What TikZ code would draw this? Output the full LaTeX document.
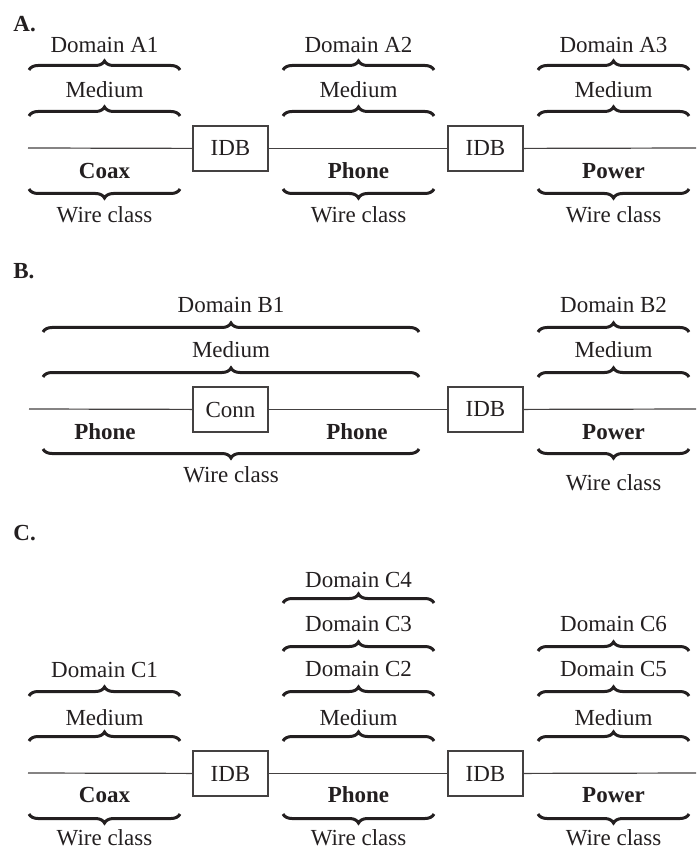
\documentclass[tikz,border=0pt]{standalone}
\usepackage{fontspec}
\setmainfont{Liberation Serif}
\usetikzlibrary{decorations.pathreplacing}
\definecolor{ink}{HTML}{231F20}
\tikzset{
  brup/.style={draw=ink, line width=1.5pt, decorate, decoration={brace, amplitude=4.5pt}},
  brdown/.style={draw=ink, line width=1.5pt, decorate, decoration={brace, mirror, amplitude=4.5pt}},
  wire/.style={draw=ink!85, line width=0.6pt},
  idb/.style={draw=ink!85, line width=0.6pt, minimum width=37.5pt, minimum height=22.5pt},
  part/.style={font=\fontsize{11.5}{14}\selectfont\bfseries, anchor=west},
}

\begin{document}
\begin{tikzpicture}[x=0.5pt, y=-0.5pt, every node/.style={font=\fontsize{11.5}{14}\selectfont, text=ink, inner sep=0pt}]
\useasboundingbox (0,0) rectangle (696,849);

% A
\node[part] (A) at (13,24) {A.};
\node (a1dom) at (104.5,45) {Domain A1};
\node (a2dom) at (358.5,45) {Domain A2};
\node (a3dom) at (613.5,45) {Domain A3};
\node (a1med) at (104.5,90) {Medium};
\node (a2med) at (358.5,90) {Medium};
\node (a3med) at (613.5,90) {Medium};
\draw[brup] (29,70) -- (180,70);
\draw[brup] (283,70) -- (434,70);
\draw[brup] (538,70) -- (689,70);
\draw[brup] (29,116) -- (180,116);
\draw[brup] (283,116) -- (434,116);
\draw[brup] (538,116) -- (689,116);
\coordinate (aL) at (28,148);
\coordinate (aR) at (696,148);
\node[idb] (aidb1) at (230.5,148.5) {IDB};
\node[idb] (aidb2) at (485.5,148.5) {IDB};
\draw[wire] (aL) -- (aidb1);
\draw[wire] (aidb1) -- (aidb2);
\draw[wire] (aidb2) -- (aR);
\node[font=\fontsize{11.5}{14}\selectfont\bfseries] (acoax) at (104.5,171) {Coax};
\node[font=\fontsize{11.5}{14}\selectfont\bfseries] (aphone) at (358.5,171) {Phone};
\node[font=\fontsize{11.5}{14}\selectfont\bfseries] (apower) at (613.5,171) {Power};
\draw[brdown] (29,189) -- (180,189);
\draw[brdown] (283,189) -- (434,189);
\draw[brdown] (538,189) -- (689,189);
\node (a1wire) at (104.5,215) {Wire class};
\node (a2wire) at (358.5,215) {Wire class};
\node (a3wire) at (613.5,215) {Wire class};

% B
\node[part] (B) at (13,271) {B.};
\node (b1dom) at (231,305) {Domain B1};
\node (b2dom) at (613.5,305) {Domain B2};
\node (b1med) at (231,350) {Medium};
\node (b2med) at (613.5,350) {Medium};
\draw[brup] (43,332) -- (419,332);
\draw[brup] (538,332) -- (689,332);
\draw[brup] (43,377) -- (419,377);
\draw[brup] (538,377) -- (689,377);
\coordinate (bL) at (29,409);
\coordinate (bR) at (696,409);
\node[idb] (bconn) at (230.5,409.5) {Conn};
\node[idb] (bidb) at (485.5,409.5) {IDB};
\draw[wire] (bL) -- (bconn);
\draw[wire] (bconn) -- (bidb);
\draw[wire] (bidb) -- (bR);
\node[font=\fontsize{11.5}{14}\selectfont\bfseries] (bphone1) at (105,432) {Phone};
\node[font=\fontsize{11.5}{14}\selectfont\bfseries] (bphone2) at (357,432) {Phone};
\node[font=\fontsize{11.5}{14}\selectfont\bfseries] (bpower) at (613.5,432) {Power};
\draw[brdown] (43,449) -- (419,449);
\draw[brdown] (538,449) -- (689,449);
\node (b1wire) at (231,475) {Wire class};
\node (b2wire) at (613.5,483) {Wire class};

% C
\node[part] (C) at (13,533) {C.};
\node (c4dom) at (358.5,580) {Domain C4};
\node (c3dom) at (358.5,624) {Domain C3};
\node (c6dom) at (613.5,624) {Domain C6};
\node (c1dom) at (104.5,670) {Domain C1};
\node (c2dom) at (358.5,669) {Domain C2};
\node (c5dom) at (613.5,669) {Domain C5};
\node (c1med) at (104.5,718) {Medium};
\node (c2med) at (358.5,718) {Medium};
\node (c3med) at (613.5,718) {Medium};
\draw[brup] (283,603) -- (434,603);
\draw[brup] (283,651) -- (434,651);
\draw[brup] (538,651) -- (689,651);
\draw[brup] (29,696) -- (180,696);
\draw[brup] (283,696) -- (434,696);
\draw[brup] (538,696) -- (689,696);
\draw[brup] (29,741) -- (180,741);
\draw[brup] (283,741) -- (434,741);
\draw[brup] (538,741) -- (689,741);
\coordinate (cL) at (28,773);
\coordinate (cR) at (696,773);
\node[idb] (cidb1) at (230.5,773.5) {IDB};
\node[idb] (cidb2) at (485.5,773.5) {IDB};
\draw[wire] (cL) -- (cidb1);
\draw[wire] (cidb1) -- (cidb2);
\draw[wire] (cidb2) -- (cR);
\node[font=\fontsize{11.5}{14}\selectfont\bfseries] (ccoax) at (104.5,795) {Coax};
\node[font=\fontsize{11.5}{14}\selectfont\bfseries] (cphone) at (358.5,795) {Phone};
\node[font=\fontsize{11.5}{14}\selectfont\bfseries] (cpower) at (613.5,795) {Power};
\draw[brdown] (29,814) -- (180,814);
\draw[brdown] (283,814) -- (434,814);
\draw[brdown] (538,814) -- (689,814);
\node (c1wire) at (104.5,838) {Wire class};
\node (c2wire) at (358.5,838) {Wire class};
\node (c3wire) at (613.5,838) {Wire class};
\end{tikzpicture}
\end{document}
